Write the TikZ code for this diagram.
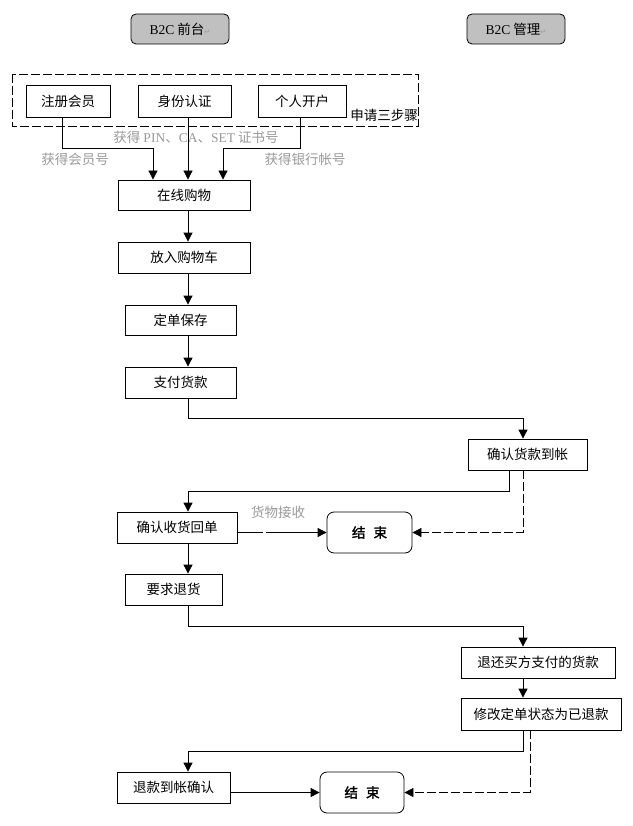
\documentclass[tikz,border=0pt]{standalone}
\usepackage{fontspec}
\setmainfont{Noto Sans CJK SC}
\newfontfamily\latinfont{Liberation Serif}
\newfontfamily\retfont{DejaVu Sans}
\newfontfamily\endfont{Noto Sans CJK SC}[FakeBold=2]
\usetikzlibrary{arrows.meta}

\definecolor{labelgray}{HTML}{999999}
\definecolor{headgray}{HTML}{C0C0C0}
\newcommand{\retmark}{{\retfont\fontsize{7}{8}\selectfont\color{labelgray}↵}}

\begin{document}
\begin{tikzpicture}[x=1pt,y=-1pt,
  font=\fontsize{13.5}{15}\selectfont,
  box/.style={draw,line width=0.8pt,inner sep=0pt,minimum height=31pt},
  head/.style={box,fill=headgray,rounded corners=5pt,minimum width=98pt,minimum height=30pt},
  endbox/.style={box,rounded corners=7pt,minimum width=85pt,minimum height=41pt,
    font=\endfont\fontsize{13.5}{15}\selectfont},
  arr/.style={-{Triangle[length=9pt,width=9pt]},line width=0.8pt},
  dsh/.style={dash pattern=on 9pt off 3pt},
  lbl/.style={text=labelgray}]
  \useasboundingbox (0,0) rectangle (632,826);

  % column axes
  \coordinate (ax) at (188,0);
  \coordinate (bx) at (523,0);

  % headers
  \node[head] (qt) at (180,29) {{\latinfont B2C} 前台\retmark};
  \node[head] (gl) at (516,29) {{\latinfont B2C} 管理\retmark};

  % three steps
  \draw[dsh,line width=0.8pt] (12,74) rectangle (418,126);
  \node[box,minimum width=84pt,minimum height=32pt] (zc) at (68,101) {注册会员};
  \node[box,minimum width=93pt,minimum height=32pt] (sf) at (184.5,101) {身份认证};
  \node[box,minimum width=88pt,minimum height=32pt] (kh) at (302,101) {个人开户};
  \node (sb) at (384,115) {申请三步骤};

  % front side
  \node[box,minimum width=132pt,minimum height=30pt] (zx) at (184,195) {在线购物};
  \node[box,minimum width=132pt] (fr) at (184,257.5) {放入购物车};
  \node[box,minimum width=111pt,minimum height=30pt] (bc) at (180.5,320) {定单保存};
  \node[box,minimum width=111pt] (zf) at (180.5,382.5) {支付货款};
  \node[box,minimum width=120pt] (sh) at (177,527.5) {确认收货回单};
  \node[box,minimum width=97pt] (yq) at (173.5,589.5) {要求退货};
  \node[box,minimum width=113pt] (tk) at (173.5,787.5) {退款到帐确认};

  % management side
  \node[box,minimum width=119pt] (qr) at (527.5,454.5) {确认货款到帐};
  \node[box,minimum width=154pt] (th) at (538,662.5) {退还买方支付的货款};
  \node[box,minimum width=160pt,minimum height=32pt] (xg) at (541,714) {修改定单状态为已退款};

  % end boxes
  \node[endbox] (js1) at (369.5,532.5) {结\hspace{0.6em}束};
  \node[endbox,minimum width=84pt] (js2) at (362,792.5) {结\hspace{0.6em}束};

  % labels
  \node[lbl] (l1) at (196,137) {获得 {\latinfont PIN}、{\latinfont CA}、{\latinfont SET} 证书号};
  \node[lbl] (l2) at (75,159) {获得会员号};
  \node[lbl] (l3) at (305,159) {获得银行帐号};
  \node[lbl] (l4) at (278,512) {货物接收};

  % connectors
  \draw[arr] ([xshift=-6pt]zc.south) -- ++(0,31) -| ([xshift=-31pt]zx.north);
  \draw[arr] (sf.south -| ax) -- (zx.north -| ax);
  \draw[arr] ([xshift=-2pt]kh.south) -- ++(0,31) -| ([xshift=39pt]zx.north);
  \draw[arr] (zx.south -| ax) -- (fr.north -| ax);
  \draw[arr] (fr.south -| ax) -- (bc.north -| ax);
  \draw[arr] (bc.south -| ax) -- (zf.north -| ax);
  \draw[arr] (zf.south -| ax) -- ++(0,20) -| (qr.north -| bx);
  \draw[arr] ([xshift=-18.5pt]qr.south) -- ++(0,21) -| (sh.north -| ax);
  \draw[arr,dsh] (qr.south -| bx) |- (js1.east);
  \draw[arr,dash pattern=on 26pt off 3pt on 200pt off 0pt] (sh.east |- js1.west) -- (js1.west);
  \draw[arr] (sh.south -| ax) -- (yq.north -| ax);
  \draw[arr] (yq.south -| ax) -- ++(0,21) -| (th.north -| bx);
  \draw[arr] (th.south -| bx) -- (xg.north -| bx);
  \draw[arr] (xg.south -| bx) -- ++(0,21) -| (tk.north -| ax);
  \draw[arr,dsh] ([xshift=-11pt]xg.south) |- (js2.east);
  \draw[arr] (tk.east |- js2.west) -- (js2.west);
\end{tikzpicture}
\end{document}
